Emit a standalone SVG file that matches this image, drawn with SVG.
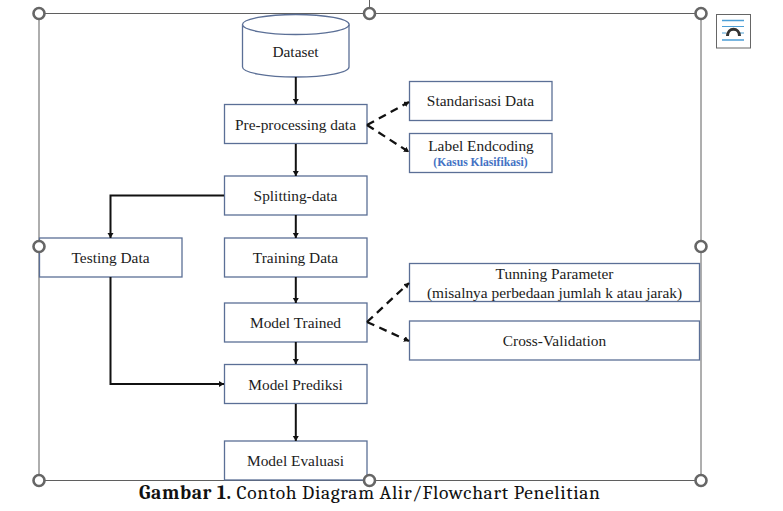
<svg xmlns="http://www.w3.org/2000/svg" width="783" height="511" viewBox="0 0 783 511">
<style>
.n{fill:#fff;stroke:#5b6f96;stroke-width:1.3}
text{font-family:"Liberation Serif",serif;font-size:15.4px;fill:#1c1c1c;text-anchor:middle}
.h{fill:#fff;stroke:#666;stroke-width:2.6}
.fr{fill:none;stroke:#5f5f5f;stroke-width:1}
.c{fill:none;stroke:#111;stroke-width:2}
.d{fill:none;stroke:#111;stroke-width:2.300;stroke-dasharray:8 5.500}
.cap{font-family:"Cambria","DejaVu Serif",serif;font-size:19.500px;fill:#111}
</style>
<defs>
<marker id="a" markerUnits="userSpaceOnUse" markerWidth="7" markerHeight="7" refX="5" refY="3" orient="auto"><path d="M0 0L5 3L0 6Z" fill="#111"/></marker>
</defs>
<g id="frame">
<rect class="fr" x="39" y="13.500" width="662" height="467"/>
<line class="fr" x1="369.500" y1="0" x2="369.500" y2="13"/>
</g>
<g id="dataset">
<path class="n" d="M242.500 24.500V67C242.500 72.500 266 77 296 77S349 72.500 349 67V24.500"/>
<ellipse class="n" cx="295.800" cy="24.500" rx="53.300" ry="10"/>
<text x="295.500" y="57">Dataset</text>
</g>
<g id="preprocessing"><rect class="n" x="224.500" y="104.500" width="142.500" height="39"/><text x="295.500" y="130">Pre-processing data</text></g>
<g id="standarisasi"><rect class="n" x="409.500" y="81.500" width="142.500" height="39"/><text x="480.500" y="106">Standarisasi Data</text></g>
<g id="label"><rect class="n" x="409.500" y="133.500" width="142.500" height="39"/><text x="481" y="151">Label Endcoding</text><text x="480.500" y="166" style="font-size:11.700px;font-weight:bold;fill:#4472c4">(Kasus Klasifikasi)</text></g>
<g id="splitting"><rect class="n" x="224.500" y="176" width="142.500" height="39"/><text x="295.500" y="201">Splitting-data</text></g>
<g id="testing"><rect class="n" x="39.500" y="238" width="142.500" height="39"/><text x="110.500" y="263">Testing Data</text></g>
<g id="training"><rect class="n" x="224.500" y="238" width="142.500" height="39"/><text x="295.500" y="263">Training Data</text></g>
<g id="trained"><rect class="n" x="224.500" y="303" width="142.500" height="39"/><text x="295.500" y="328">Model Trained</text></g>
<g id="prediksi"><rect class="n" x="224.500" y="364.500" width="142.500" height="39"/><text x="295.500" y="390">Model Prediksi</text></g>
<g id="evaluasi"><rect class="n" x="224.500" y="441" width="142.500" height="39"/><text x="295.500" y="466">Model Evaluasi</text></g>
<g id="tunning"><rect class="n" x="409.500" y="263.500" width="290" height="38"/><text x="554.500" y="279">Tunning Parameter</text><text x="554.500" y="298">(misalnya perbedaan jumlah k atau jarak)</text></g>
<g id="cv"><rect class="n" x="409.500" y="321" width="290" height="39"/><text x="554.500" y="346">Cross-Validation</text></g>
<g id="connectors">
<path class="c" marker-end="url(#a)" d="M295.800 77V104"/>
<path class="c" marker-end="url(#a)" d="M295.800 144V176"/>
<path class="c" marker-end="url(#a)" d="M295.800 215V238"/>
<path class="c" marker-end="url(#a)" d="M295.800 277V303"/>
<path class="c" marker-end="url(#a)" d="M295.800 342V364"/>
<path class="c" marker-end="url(#a)" d="M295.800 404V441"/>
<path class="c" marker-end="url(#a)" d="M224 195.500H110.500V238"/>
<path class="c" marker-end="url(#a)" d="M110.500 277V384H224"/>
<path class="d" marker-end="url(#a)" d="M367 125L409 102"/>
<path class="d" marker-end="url(#a)" d="M367 125L409 152"/>
<path class="d" marker-end="url(#a)" d="M367 322L409 283"/>
<path class="d" marker-end="url(#a)" d="M367 322L409 341"/>
</g>
<g id="handles">
<circle class="h" cx="39" cy="13.500" r="5.500"/><circle class="h" cx="369.500" cy="13.500" r="5.500"/><circle class="h" cx="701" cy="13.500" r="5.500"/>
<circle class="h" cx="39" cy="246.500" r="5.500"/><circle class="h" cx="701" cy="246.500" r="5.500"/>
<circle class="h" cx="39" cy="480.500" r="5.500"/><circle class="h" cx="369.500" cy="480.500" r="5.500"/><circle class="h" cx="701" cy="480.500" r="5.500"/>
</g>
<g id="layout-icon">
<rect x="716.500" y="14.500" width="34" height="33.500" fill="#fff" stroke="#666" stroke-width="1"/>
<path d="M722 20.500H744M722 40H744" stroke="#4d9fd6" stroke-width="1.600" fill="none"/>
<path d="M722 26.500H744M722 33H726M740 33H744" stroke="#4d9fd6" stroke-width="1.200" fill="none"/>
<path d="M727.500 36C727.500 27 739.500 27 739.500 36" stroke="#333" stroke-width="3" fill="none"/>
</g>
<text class="cap" x="369.500" y="499" textLength="461" lengthAdjust="spacing"><tspan font-weight="bold">Gambar 1.</tspan> Contoh Diagram Alir/Flowchart Penelitian</text>
</svg>
